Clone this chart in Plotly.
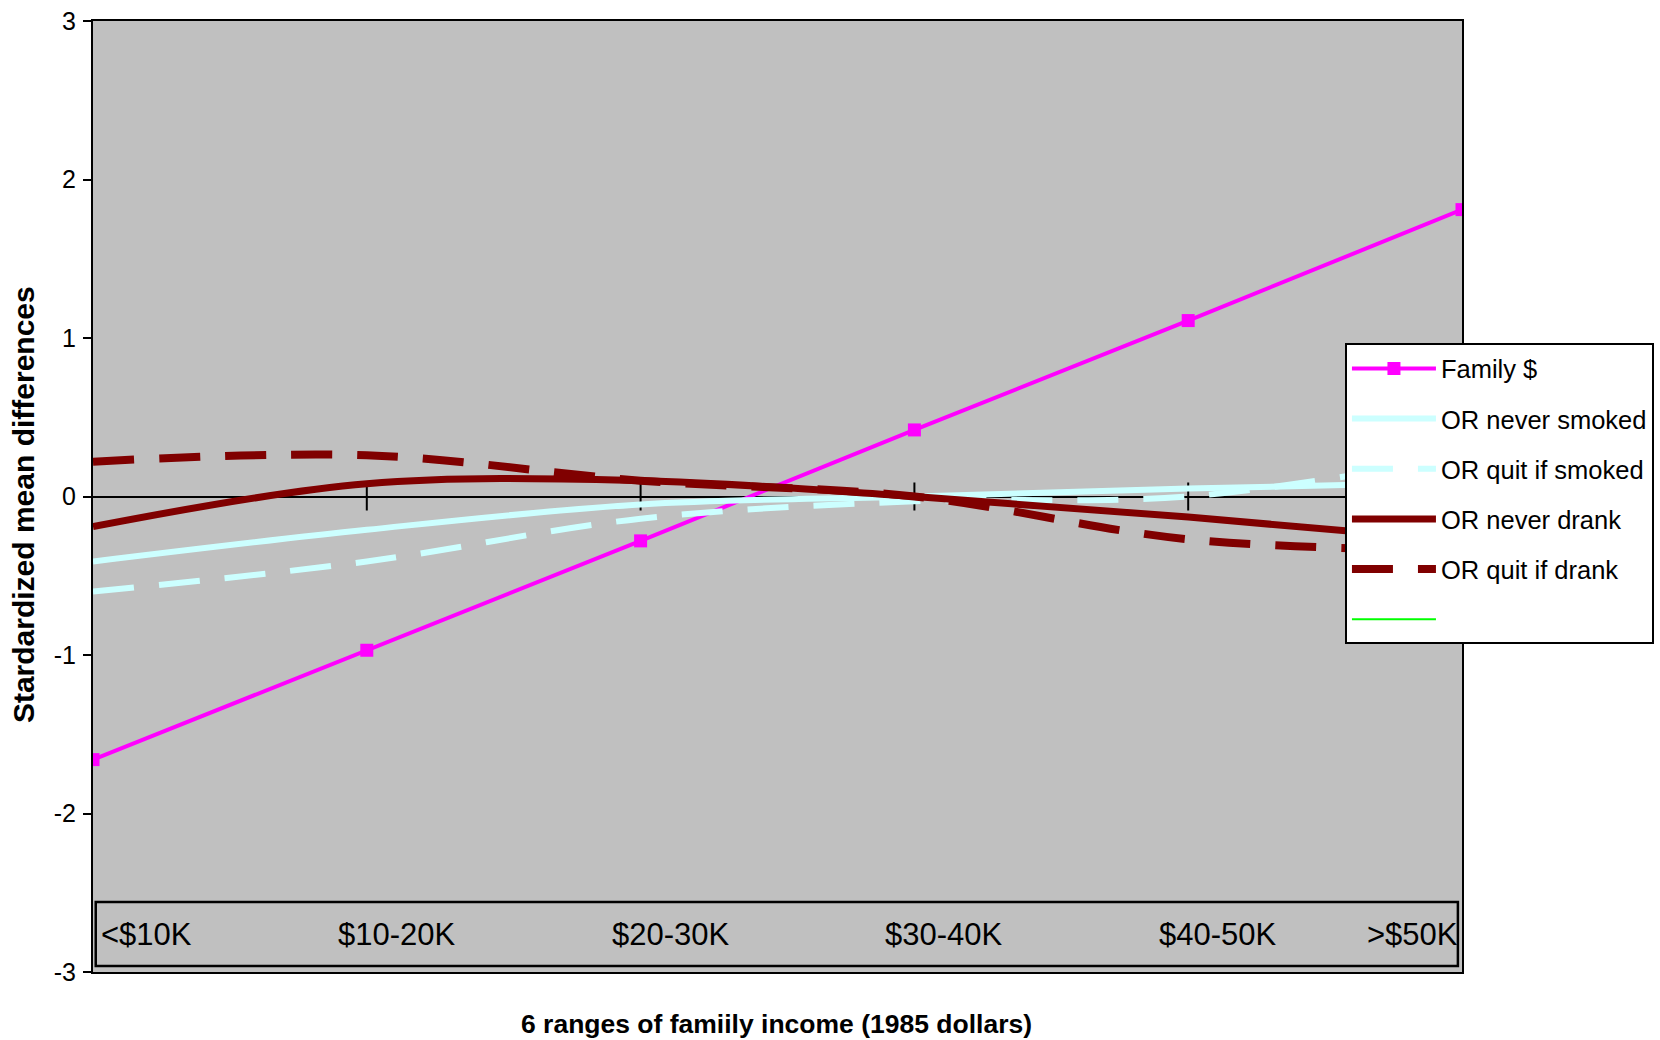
import plotly.graph_objects as go

# Income categories (1985 dollars)
categories = ["<$10K", "$10-20K", "$20-30K", "$30-40K", "$40-50K", ">$50K"]
y_ticks = [-3, -2, -1, 0, 1, 2, 3]
y_tick_text = ["-3", "-2", "-1", "0", "1", "2", "3"]

# Standardized mean differences by income range
family_income = [-1.66, -0.97, -0.28, 0.42, 1.11, 1.81]
never_smoked = [-0.41, -0.21, -0.05, 0.00, 0.05, 0.09]
quit_if_smoked = [-0.60, -0.41, -0.14, -0.03, 0.00, 0.25]
never_drank = [-0.19, 0.08, 0.10, 0.00, -0.13, -0.28]
quit_if_drank = [0.22, 0.26, 0.10, 0.00, -0.27, -0.34]
empty_series = [None, None, None, None, None, None]

xpos = list(range(len(categories)))
FONT = "Liberation Sans, Arial, sans-serif"

fig = go.Figure()

# category tick marks crossing the zero line
fig.add_trace(go.Scatter(
    x=xpos[1:], y=[0] * (len(xpos) - 1), mode="markers", showlegend=False, hoverinfo="skip",
    marker=dict(symbol="line-ns", size=20, line=dict(color="black", width=2)),
))

series = [
    ("Family $", family_income, dict(color="#FF00FF", width=4), "linear", True),
    ("OR never smoked", never_smoked, dict(color="#CCFFFF", width=6), "spline", False),
    ("OR quit if smoked", quit_if_smoked, dict(color="#CCFFFF", width=6, dash="41px,25px"), "spline", False),
    ("OR never drank", never_drank, dict(color="#800000", width=7), "spline", False),
    ("OR quit if drank", quit_if_drank, dict(color="#800000", width=8, dash="41px,25px"), "spline", False),
    (" ", empty_series, dict(color="#00FF00", width=2), "linear", False),
]

for i, (name, vals, line, shape, markers) in enumerate(series):
    line = dict(line)
    line["shape"] = shape
    fig.add_trace(go.Scatter(
        x=xpos, y=vals, name=name, legendgroup=f"g{i}",
        mode="lines+markers" if markers else "lines",
        line=line,
        marker=dict(symbol="square", size=13, color="#FF00FF") if markers else None,
        hoverinfo="skip",
    ))

annotations = []
last = len(categories) - 1
for i, lab in enumerate(categories):
    if i == 0:
        xa, xs = "left", 6
    elif i == last:
        xa, xs = "right", -2
    else:
        xa, xs = "center", 30
    annotations.append(dict(
        x=i, xref="x", y=0.039, yref="paper", text=lab, showarrow=False,
        xanchor=xa, yanchor="middle", xshift=xs,
        font=dict(family=FONT, size=31, color="black"),
    ))

annotations.append(dict(
    x=-0.0511, y=0.491, xref="paper", yref="paper", textangle=-90,
    text="<b>Stardardized mean differences</b>", showarrow=False,
    xanchor="center", yanchor="middle",
    font=dict(family=FONT, size=30, color="black"),
))
annotations.append(dict(
    x=0.499, y=-0.0547, xref="paper", yref="paper",
    text="<b>6 ranges of famiily income (1985 dollars)</b>", showarrow=False,
    xanchor="center", yanchor="middle",
    font=dict(family=FONT, size=26.5, color="black"),
))

fig.update_layout(
    width=1660, height=1040,
    margin=dict(l=93, r=198, t=21, b=68, autoexpand=False),
    paper_bgcolor="white", plot_bgcolor="#C0C0C0",
    font=dict(family=FONT, color="black"),
    showlegend=True,
    legend=dict(
        x=0.9145, y=0.661, xanchor="left", yanchor="top",
        bgcolor="white", bordercolor="black", borderwidth=2,
        font=dict(family=FONT, size=25.5, color="black"),
        traceorder="grouped", tracegroupgap=14, itemwidth=84,
    ),
    xaxis=dict(
        range=[0, 5], showticklabels=False, ticks="", showgrid=False,
        zeroline=False, showline=True, linecolor="black", linewidth=2, mirror=True,
    ),
    yaxis=dict(
        range=[-3, 3], tickvals=y_ticks, ticktext=y_tick_text,
        ticks="outside", ticklen=8, tickwidth=2,
        tickcolor="black", showgrid=False, showline=True, linecolor="black",
        linewidth=2, mirror=True, zeroline=True, zerolinecolor="black",
        zerolinewidth=2, ticklabelstandoff=2,
        tickfont=dict(family=FONT, size=25, color="black"),
    ),
    shapes=[dict(
        type="rect", xref="paper", yref="paper",
        x0=0.002, x1=0.997, y0=0.0063, y1=0.0736,
        line=dict(color="black", width=2.5), fillcolor="rgba(0,0,0,0)",
    )],
    annotations=annotations,
)

fig.write_html("out.html")
